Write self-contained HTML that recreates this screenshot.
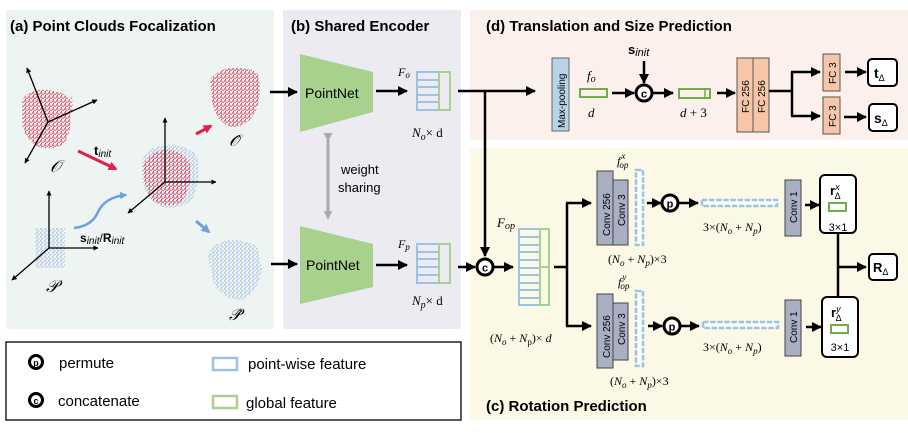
<!DOCTYPE html>
<html><head><meta charset="utf-8"><style>
html,body{margin:0;padding:0;background:#fff;width:908px;height:433px;overflow:hidden}
svg{display:block}
text{font-family:"Liberation Sans",sans-serif}
.m{font-family:"Liberation Serif",serif;font-style:italic}
.b{font-weight:bold}
</style></head><body>
<svg width="908" height="433" viewBox="0 0 908 433" xmlns="http://www.w3.org/2000/svg">
<defs>
<marker id="ah" viewBox="0 0 10 10" refX="9" refY="5" markerWidth="4" markerHeight="4" orient="auto"><path d="M0,0L10,5L0,10z" fill="#000"/></marker>
<marker id="ahr" viewBox="0 0 10 10" refX="8" refY="5" markerWidth="3" markerHeight="3" orient="auto"><path d="M0,0L10,5L0,10z" fill="#e0204a"/></marker>
<marker id="ahb" viewBox="0 0 10 10" refX="8" refY="5" markerWidth="3" markerHeight="3" orient="auto"><path d="M0,0L10,5L0,10z" fill="#6ea0e6"/></marker>
<marker id="ahg" viewBox="0 0 10 10" refX="8" refY="5" markerWidth="3" markerHeight="3" orient="auto"><path d="M0,0L10,5L0,10z" fill="#aaa"/></marker>
<pattern id="pr" width="4" height="4" patternUnits="userSpaceOnUse"><circle cx="1" cy="1" r="0.9" fill="#d8304f"/><circle cx="3" cy="2.2" r="0.8" fill="#e04060"/><circle cx="1.5" cy="3.4" r="0.6" fill="#d8304f"/></pattern>
<pattern id="pb" width="4" height="4" patternUnits="userSpaceOnUse"><circle cx="1" cy="1" r="0.7" fill="#7ea6e8"/><circle cx="3" cy="2.5" r="0.6" fill="#8fb2ec"/><circle cx="1.8" cy="3.5" r="0.5" fill="#7ea6e8"/></pattern>
</defs>

<rect x="6" y="10" width="268" height="319" fill="#eef4f1"/>
<rect x="283" y="10" width="178" height="319" fill="#ecebf2"/>
<rect x="470" y="10" width="438" height="130" fill="#fcf0ed"/>
<rect x="470" y="148" width="438" height="272" fill="#fbf9e5"/>

<text x="10" y="31" font-size="15" class="b">(a) Point Clouds Focalization</text>
<text x="291" y="31" font-size="15" class="b">(b) Shared Encoder</text>
<text x="486" y="31" font-size="15" class="b">(d) Translation and Size Prediction</text>
<text x="486" y="411" font-size="15" class="b">(c) Rotation Prediction</text>

<path d="M22,100 Q30,88 48,90 Q65,92 70,100 L72,96 Q74,110 70,115 Q72,135 62,145 Q48,152 35,145 Q22,135 22,120 Z" fill="url(#pr)"/>
<g stroke="#000" stroke-width="1.3" fill="none">
<line x1="48" y1="122" x2="27" y2="68" marker-end="url(#ah)"/>
<line x1="48" y1="122" x2="97" y2="100" marker-end="url(#ah)"/>
<line x1="48" y1="122" x2="25" y2="163" marker-end="url(#ah)"/>
</g>
<text x="50" y="172" font-size="17" class="m">𝒪</text>
<line x1="78" y1="151" x2="116" y2="169" stroke="#e0204a" stroke-width="3" marker-end="url(#ahr)"/>
<text x="94" y="155" font-size="13" font-family="Liberation Serif" class="b">t<tspan font-style="italic" font-weight="normal" font-size="10" dy="2">init</tspan></text>

<path d="M142,160 Q150,143 175,145 Q195,148 198,160 Q200,185 192,200 Q180,210 162,207 Q146,200 142,180 Z" fill="url(#pb)"/>
<path d="M143,165 Q152,148 170,150 Q185,152 190,165 Q192,190 180,203 Q165,209 152,200 Q143,185 143,165 Z" fill="url(#pr)"/>
<g stroke="#000" stroke-width="1.3" fill="none">
<line x1="165" y1="182" x2="165" y2="118" marker-end="url(#ah)"/>
<line x1="165" y1="182" x2="216" y2="182" marker-end="url(#ah)"/>
<line x1="165" y1="182" x2="128" y2="213" marker-end="url(#ah)"/>
</g>
<line x1="196" y1="134" x2="211" y2="126" stroke="#e0204a" stroke-width="3" marker-end="url(#ahr)"/>
<path d="M210,80 Q220,66 240,68 L252,70 L258,74 Q262,95 256,110 Q250,126 232,127 Q215,122 212,100 Z" fill="url(#pr)"/>
<text x="229" y="146" font-size="16" class="m">𝒪̂</text>

<line x1="196" y1="221" x2="209" y2="232" stroke="#6ea0e6" stroke-width="3" marker-end="url(#ahb)"/>
<path d="M208,255 Q214,240 235,240 Q255,242 258,250 L262,270 Q256,296 242,300 Q225,300 214,285 Z" fill="url(#pb)"/>
<text x="229" y="320" font-size="16" class="m">𝒫̂</text>

<rect x="35" y="228" width="30" height="40" fill="url(#pb)"/>
<g stroke="#000" stroke-width="1.3" fill="none">
<line x1="49" y1="248" x2="49" y2="191" marker-end="url(#ah)"/>
<line x1="49" y1="248" x2="98" y2="248" marker-end="url(#ah)"/>
<line x1="49" y1="248" x2="12" y2="280" marker-end="url(#ah)"/>
</g>
<text x="46" y="292" font-size="17" class="m">𝒫</text>
<path d="M74,228 Q92,226 98,212 Q105,197 126,195" stroke="#6ea0e6" stroke-width="2.5" fill="none" marker-end="url(#ahb)"/>
<text x="80" y="242" font-size="12" font-family="Liberation Serif" class="b">s<tspan font-style="italic" font-weight="normal" font-size="10" dy="2">init</tspan><tspan dy="-2" font-weight="normal">/</tspan>R<tspan font-style="italic" font-weight="normal" font-size="10" dy="2">init</tspan></text>

<line x1="270" y1="92" x2="297" y2="92" stroke="#000" stroke-width="2.5" marker-end="url(#ah)"/>
<line x1="271" y1="264" x2="297" y2="264" stroke="#000" stroke-width="2.5" marker-end="url(#ah)"/>
<polygon points="300,54 373,72 373,112 300,132" fill="#a9d18e"/>
<polygon points="300,226 373,244 373,287 300,304" fill="#a9d18e"/>
<text x="305" y="98" font-size="14">PointNet</text>
<text x="306" y="270" font-size="14">PointNet</text>
<line x1="376" y1="91" x2="407" y2="91" stroke="#000" stroke-width="2.5" marker-end="url(#ah)"/>
<line x1="376" y1="265" x2="407" y2="265" stroke="#000" stroke-width="2.5" marker-end="url(#ah)"/>
<line x1="328" y1="140" x2="328" y2="218" stroke="#aaa" stroke-width="3" marker-start="url(#ahg)" marker-end="url(#ahg)"/>
<text x="341" y="174" font-size="13">weight</text>
<text x="338" y="192" font-size="13">sharing</text>

<g stroke="#9cc3e6" stroke-width="2" fill="none">
<rect x="417" y="72" width="22" height="38"/>
<line x1="417" y1="80" x2="439" y2="80"/><line x1="417" y1="87" x2="439" y2="87"/><line x1="417" y1="95" x2="439" y2="95"/><line x1="417" y1="102" x2="439" y2="102"/>
<rect x="417" y="244" width="22" height="39"/>
<line x1="417" y1="252" x2="439" y2="252"/><line x1="417" y1="259" x2="439" y2="259"/><line x1="417" y1="267" x2="439" y2="267"/><line x1="417" y1="275" x2="439" y2="275"/>
</g>
<rect x="439" y="72" width="11" height="38" stroke="#a9d18e" stroke-width="2" fill="none"/>
<rect x="439" y="244" width="11" height="39" stroke="#a9d18e" stroke-width="2" fill="none"/>
<text x="398" y="76" font-size="12" class="m">F<tspan font-size="9" dy="2">o</tspan></text>
<text x="398" y="248" font-size="12" class="m">F<tspan font-size="9" dy="2">p</tspan></text>
<text x="412" y="137" font-size="13" class="m">N<tspan font-size="10" dy="3">o</tspan><tspan dy="-3" font-style="normal">× d</tspan></text>
<text x="412" y="305" font-size="13" class="m">N<tspan font-size="10" dy="3">p</tspan><tspan dy="-3" font-style="normal">× d</tspan></text>

<line x1="458" y1="91" x2="535" y2="91" stroke="#000" stroke-width="2.5" marker-end="url(#ah)"/>
<line x1="485" y1="91" x2="485" y2="256" stroke="#000" stroke-width="2.5" marker-end="url(#ah)"/>
<line x1="458" y1="267" x2="475" y2="267" stroke="#000" stroke-width="2.5" marker-end="url(#ah)"/>
<circle cx="485" cy="267" r="8" fill="#fff" stroke="#000" stroke-width="3"/>
<text x="485" y="271.5" font-size="11" text-anchor="middle" class="b">c</text>
<line x1="494" y1="267" x2="513" y2="267" stroke="#000" stroke-width="2.5" marker-end="url(#ah)"/>

<rect x="552" y="58" width="17" height="73" fill="#b7d3e8" stroke="#666" stroke-width="1"/>
<text transform="translate(565,128) rotate(-90)" font-size="10">Max-pooling</text>
<text x="587" y="80" font-size="13" class="m">f<tspan font-size="10" dy="2">o</tspan></text>
<rect x="580" y="89" width="27" height="8" fill="none" stroke="#70ad47" stroke-width="2"/>
<text x="588" y="117" font-size="13" class="m">d</text>
<line x1="612" y1="93" x2="634" y2="93" stroke="#000" stroke-width="2.5" marker-end="url(#ah)"/>
<text x="628" y="54" font-size="13" font-family="Liberation Serif" class="b">s<tspan font-style="italic" font-weight="normal" font-size="11" dy="2">init</tspan></text>
<line x1="644" y1="61" x2="644" y2="83" stroke="#000" stroke-width="2.5" marker-end="url(#ah)"/>
<circle cx="644" cy="93" r="8" fill="#fff" stroke="#000" stroke-width="3"/>
<text x="644" y="97.5" font-size="11" text-anchor="middle" class="b">c</text>
<line x1="653" y1="93" x2="673" y2="93" stroke="#000" stroke-width="2.5" marker-end="url(#ah)"/>
<rect x="679" y="89" width="31" height="9" fill="none" stroke="#70ad47" stroke-width="2"/>
<line x1="705" y1="89" x2="705" y2="98" stroke="#70ad47" stroke-width="1.5"/>
<text x="680" y="117" font-size="13" class="m">d <tspan font-style="normal">+ 3</tspan></text>
<line x1="717" y1="93" x2="735" y2="93" stroke="#000" stroke-width="2.5" marker-end="url(#ah)"/>
<rect x="737" y="58" width="16" height="74" fill="#f7c6a8" stroke="#555" stroke-width="1"/>
<rect x="753" y="58" width="16" height="74" fill="#f7c6a8" stroke="#555" stroke-width="1"/>
<text transform="translate(749,113) rotate(-90)" font-size="10">FC 256</text>
<text transform="translate(765,113) rotate(-90)" font-size="10">FC 256</text>
<path d="M769,91 H792 M792,72 V116" stroke="#000" stroke-width="2.5" fill="none"/>
<line x1="791" y1="72" x2="820" y2="72" stroke="#000" stroke-width="2.5" marker-end="url(#ah)"/>
<line x1="791" y1="116" x2="820" y2="116" stroke="#000" stroke-width="2.5" marker-end="url(#ah)"/>
<rect x="823" y="54" width="17" height="37" fill="#f7c6a8" stroke="#555" stroke-width="1"/>
<rect x="823" y="97" width="17" height="37" fill="#f7c6a8" stroke="#555" stroke-width="1"/>
<text transform="translate(836,84) rotate(-90)" font-size="10">FC 3</text>
<text transform="translate(836,127) rotate(-90)" font-size="10">FC 3</text>
<line x1="845" y1="72" x2="866" y2="72" stroke="#000" stroke-width="2.5" marker-end="url(#ah)"/>
<line x1="844" y1="117" x2="866" y2="117" stroke="#000" stroke-width="2.5" marker-end="url(#ah)"/>
<rect x="868" y="59" width="29" height="27" rx="4" fill="#fff" stroke="#000" stroke-width="2"/>
<rect x="869" y="104" width="28" height="27" rx="4" fill="#fff" stroke="#000" stroke-width="2"/>
<text x="874" y="78" font-size="14" font-family="Liberation Serif" class="b">t<tspan font-size="9" dy="3" font-weight="normal">Δ</tspan></text>
<text x="874" y="123" font-size="14" font-family="Liberation Serif" class="b">s<tspan font-size="9" dy="3" font-weight="normal">Δ</tspan></text>

<text x="497" y="227" font-size="13" class="m">F<tspan font-size="10" dy="2">op</tspan></text>
<g stroke="#9cc3e6" stroke-width="2" fill="none">
<rect x="519" y="229" width="21" height="76"/>
<line x1="519" y1="237" x2="540" y2="237"/><line x1="519" y1="245" x2="540" y2="245"/><line x1="519" y1="252" x2="540" y2="252"/><line x1="519" y1="260" x2="540" y2="260"/><line x1="519" y1="268" x2="540" y2="268"/><line x1="519" y1="275" x2="540" y2="275"/><line x1="519" y1="283" x2="540" y2="283"/><line x1="519" y1="290" x2="540" y2="290"/><line x1="519" y1="298" x2="540" y2="298"/>
</g>
<rect x="540" y="229" width="9" height="76" fill="none" stroke="#a9d18e" stroke-width="2"/>
<line x1="540" y1="267" x2="549" y2="267" stroke="#a9d18e" stroke-width="2"/>
<text x="490" y="342" font-size="12" class="m"><tspan font-style="normal">(</tspan>N<tspan font-size="9" dy="3">o</tspan><tspan dy="-3" font-style="normal"> + </tspan>N<tspan font-size="9" dy="3" font-style="normal">p</tspan><tspan dy="-3" font-style="normal">)× </tspan>d</text>
<path d="M554,267 H567 M567,203 V326" stroke="#000" stroke-width="2.5" fill="none"/>
<line x1="566" y1="203" x2="591" y2="203" stroke="#000" stroke-width="2.5" marker-end="url(#ah)"/>
<line x1="566" y1="326" x2="591" y2="326" stroke="#000" stroke-width="2.5" marker-end="url(#ah)"/>

<rect x="597" y="171" width="16" height="74" fill="#a9b0c3" stroke="#444" stroke-width="1"/>
<rect x="613" y="180" width="15" height="65" fill="#a9b0c3" stroke="#444" stroke-width="1"/>
<text transform="translate(610,236) rotate(-90)" font-size="10">Conv 256</text>
<text transform="translate(625,226) rotate(-90)" font-size="10">Conv 3</text>
<rect x="597" y="294" width="16" height="74" fill="#a9b0c3" stroke="#444" stroke-width="1"/>
<rect x="613" y="303" width="15" height="57" fill="#a9b0c3" stroke="#444" stroke-width="1"/>
<text transform="translate(610,358) rotate(-90)" font-size="10">Conv 256</text>
<text transform="translate(625,345) rotate(-90)" font-size="10">Conv 3</text>
<g fill="#fff" stroke="#9cc3e6" stroke-width="2.6">
<rect x="636" y="170" width="7" height="75" stroke-dasharray="5.5,1.6"/>
<rect x="636" y="291" width="7" height="75" stroke-dasharray="5.5,1.6"/>
<rect x="702" y="200" width="75" height="6" stroke-dasharray="5.5,1.6"/>
<rect x="703" y="322" width="75" height="6" stroke-dasharray="5.5,1.6"/>
</g>
<text x="617" y="165" font-size="12" class="m">f<tspan font-size="9" dx="1" dy="-6">x</tspan><tspan font-size="9" dx="-6" dy="9">op</tspan></text>
<text x="618" y="286" font-size="12" class="m">f<tspan font-size="9" dx="1" dy="-6">y</tspan><tspan font-size="9" dx="-6" dy="9">op</tspan></text>
<text x="608" y="263" font-size="12" class="m"><tspan font-style="normal">(</tspan>N<tspan font-size="9" dy="3">o</tspan><tspan dy="-3" font-style="normal"> + </tspan>N<tspan font-size="9" dy="3">p</tspan><tspan dy="-3" font-style="normal">)×3</tspan></text>
<text x="610" y="385" font-size="12" class="m"><tspan font-style="normal">(</tspan>N<tspan font-size="9" dy="3">o</tspan><tspan dy="-3" font-style="normal"> + </tspan>N<tspan font-size="9" dy="3">p</tspan><tspan dy="-3" font-style="normal">)×3</tspan></text>

<line x1="647" y1="203" x2="661" y2="203" stroke="#000" stroke-width="2.5" marker-end="url(#ah)"/>
<line x1="648" y1="326" x2="662" y2="326" stroke="#000" stroke-width="2.5" marker-end="url(#ah)"/>
<circle cx="670" cy="203" r="8" fill="#fff" stroke="#000" stroke-width="3"/>
<circle cx="672" cy="326" r="8" fill="#fff" stroke="#000" stroke-width="3"/>
<text x="670" y="207.5" font-size="11" text-anchor="middle" class="b">p</text>
<text x="672" y="330.5" font-size="11" text-anchor="middle" class="b">p</text>
<line x1="679" y1="203" x2="698" y2="203" stroke="#000" stroke-width="2.5" marker-end="url(#ah)"/>
<line x1="681" y1="326" x2="699" y2="326" stroke="#000" stroke-width="2.5" marker-end="url(#ah)"/>
<text x="703" y="231" font-size="12" class="m"><tspan font-style="normal">3×(</tspan>N<tspan font-size="9" dy="3">o</tspan><tspan dy="-3" font-style="normal"> + </tspan>N<tspan font-size="9" dy="3">p</tspan><tspan dy="-3" font-style="normal">)</tspan></text>
<text x="703" y="351" font-size="12" class="m"><tspan font-style="normal">3×(</tspan>N<tspan font-size="9" dy="3">o</tspan><tspan dy="-3" font-style="normal"> + </tspan>N<tspan font-size="9" dy="3">p</tspan><tspan dy="-3" font-style="normal">)</tspan></text>

<rect x="785" y="180" width="16" height="56" fill="#a9b0c3" stroke="#444" stroke-width="1"/>
<rect x="785" y="300" width="16" height="56" fill="#a9b0c3" stroke="#444" stroke-width="1"/>
<text transform="translate(797,223) rotate(-90)" font-size="10">Conv 1</text>
<text transform="translate(797,343) rotate(-90)" font-size="10">Conv 1</text>
<line x1="805" y1="205" x2="819" y2="205" stroke="#000" stroke-width="2.5" marker-end="url(#ah)"/>
<line x1="806" y1="327" x2="821" y2="327" stroke="#000" stroke-width="2.5" marker-end="url(#ah)"/>
<line x1="838" y1="233" x2="838" y2="297" stroke="#000" stroke-width="2.5"/>
<line x1="838" y1="267" x2="866" y2="267" stroke="#000" stroke-width="2.5" marker-end="url(#ah)"/>
<rect x="820" y="175" width="36" height="58" rx="5" fill="#fff" stroke="#000" stroke-width="2"/>
<rect x="822" y="297" width="36" height="60" rx="5" fill="#fff" stroke="#000" stroke-width="2"/>
<text x="830" y="195" font-size="13" font-family="Liberation Serif" class="b">r<tspan font-size="9" font-weight="normal" font-style="italic" dy="-5">x</tspan><tspan font-size="9" font-weight="normal" dx="-5" dy="9">Δ</tspan></text>
<text x="831" y="317" font-size="13" font-family="Liberation Serif" class="b">r<tspan font-size="9" font-weight="normal" font-style="italic" dy="-5">y</tspan><tspan font-size="9" font-weight="normal" dx="-5" dy="9">Δ</tspan></text>
<rect x="829" y="203" width="17" height="8" fill="none" stroke="#70ad47" stroke-width="2"/>
<rect x="831" y="325" width="17" height="8" fill="none" stroke="#70ad47" stroke-width="2"/>
<text x="838" y="231" font-size="11" text-anchor="middle">3×1</text>
<text x="840" y="351" font-size="11" text-anchor="middle">3×1</text>
<rect x="869" y="254" width="28" height="26" rx="4" fill="#fff" stroke="#000" stroke-width="2"/>
<text x="873" y="272" font-size="13" font-family="Liberation Serif" class="b">R<tspan font-size="9" font-weight="normal" dy="3">Δ</tspan></text>

<rect x="6" y="342" width="455" height="78" fill="#fff" stroke="#000" stroke-width="1.3"/>
<circle cx="36" cy="362" r="6.5" fill="#fff" stroke="#000" stroke-width="3"/>
<text x="36" y="366" font-size="9" text-anchor="middle" class="b">p</text>
<text x="59" y="368" font-size="15">permute</text>
<circle cx="36" cy="400" r="6.5" fill="#fff" stroke="#000" stroke-width="3"/>
<text x="36" y="404" font-size="9" text-anchor="middle" class="b">c</text>
<text x="58" y="406" font-size="15">concatenate</text>
<rect x="213" y="358" width="24" height="12" fill="none" stroke="#9cc3e6" stroke-width="2.5"/>
<text x="248" y="369" font-size="15">point-wise feature</text>
<rect x="213" y="396" width="24" height="12" fill="none" stroke="#a9d18e" stroke-width="2.5"/>
<text x="246" y="408" font-size="15">global feature</text>
</svg>
</body></html>
